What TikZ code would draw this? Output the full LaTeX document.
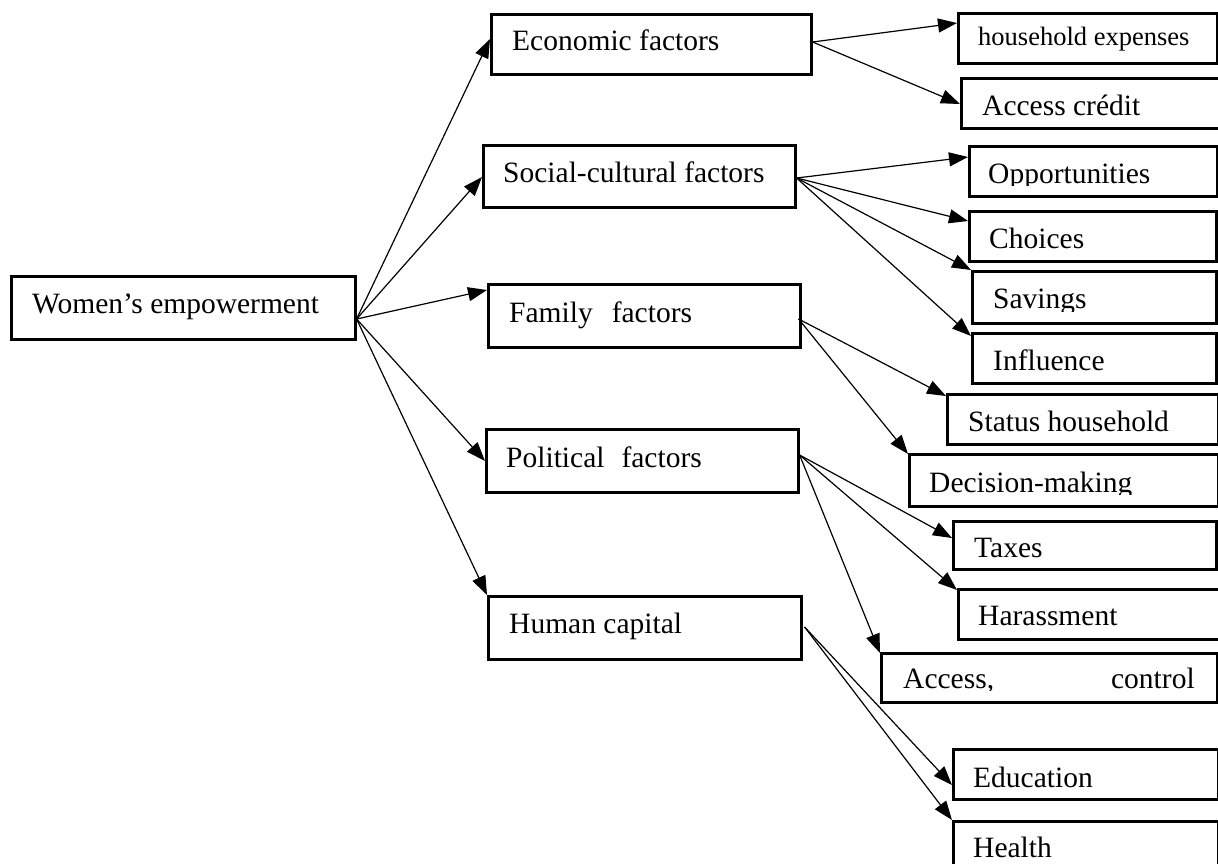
\documentclass[tikz,border=0pt]{standalone}
\usepackage{fontspec}
\setmainfont{Liberation Serif}
\usetikzlibrary{arrows.meta}
\begin{document}
\begin{tikzpicture}[x=1pt,y=-1pt,
  box/.style={draw, line width=2.6pt, rectangle, inner sep=0pt, anchor=north west},
  lbl/.style={anchor=base west, inner sep=0pt, font=\fontsize{29.5}{34}\selectfont},
  lblsmall/.style={anchor=base west, inner sep=0pt, font=\fontsize{26.5}{31}\selectfont},
  arr/.style={-{Triangle[length=19pt,width=14pt]}, line width=1.2pt}]
\useasboundingbox (0,0) rectangle (1218,863);
% boxes
\newcommand{\mybox}[5]{\node[box, minimum width=#4-#2, minimum height=#5-#3] (#1) at (#2,#3) {};}
\mybox{we}{10}{275}{354}{338}
\mybox{eco}{490}{13}{810}{73}
\mybox{soc}{482}{144}{794}{206}
\mybox{fam}{487}{283}{799}{346}
\mybox{pol}{485}{428}{797}{491}
\mybox{hum}{487}{595}{800}{658}
\mybox{hh}{957}{12}{1216}{62}
\mybox{ac}{960}{77}{1224}{127}
\mybox{opp}{968}{145}{1216}{195}
\mybox{cho}{968}{210}{1215}{260}
\mybox{sav}{971}{270}{1215}{322}
\mybox{inf}{971}{332}{1215}{382}
\mybox{sta}{946}{393}{1217}{443}
\mybox{dec}{908}{453}{1217}{505}
\mybox{tax}{952}{520}{1215}{568}
\mybox{har}{957}{588}{1224}{638}
\mybox{acc}{880}{652}{1216}{701}
\mybox{edu}{952}{748}{1217}{798}
\mybox{hea}{952}{820}{1217}{872}
% labels
\node[lbl] (we-t) at (32,313) {Women’s empowerment};
\node[lbl] (eco-t) at (512,50) {Economic factors};
\node[lbl] (soc-t) at (503,182) {Social-cultural factors};
\node[lbl] (fam-t) at (509,322) {Family\hspace{19pt}factors};
\node[lbl] (pol-t) at (506,467) {Political\hspace{17pt}factors};
\node[lbl] (hum-t) at (509,633) {Human capital};
\node[lblsmall] (hh-t) at (978,45) {household expenses};
\node[lbl] (ac-t) at (982,115) {Access crédit};
\begin{scope}\clip (960,140) rectangle (1218,185.5);
\node[lbl] (opp-t) at (988,183) {Opportunities};
\end{scope}
\node[lbl] (cho-t) at (989,248) {Choices};
\begin{scope}\clip (960,270) rectangle (1218,311);
\node[lbl] (sav-t) at (993,308) {Savings};
\end{scope}
\node[lbl] (inf-t) at (993,370) {Influence};
\node[lbl] (sta-t) at (968,431) {Status household};
\begin{scope}\clip (900,453) rectangle (1218,494.5);
\node[lbl] (dec-t) at (929,492) {Decision-making};
\end{scope}
\node[lbl] (tax-t) at (974,557) {Taxes};
\node[lbl] (har-t) at (978,625) {Harassment};
\begin{scope}\clip (880,652) rectangle (1218,690.5);
\node[lbl] (acc-t) at (903,688) {Access,\hspace{117pt}control};
\end{scope}
\node[lbl] (edu-t) at (973,787) {Education};
\node[lbl] (hea-t) at (973,857) {Health};
% connectors from Women's empowerment
\coordinate (we-o) at ([yshift=-44pt]we.north east);
\draw[arr] (we-o) -- ([yshift=-26pt]eco.north west);
\draw[arr] (we-o) -- ([yshift=-33pt]soc.north west);
\draw[arr] (we-o) -- ([yshift=-7pt]fam.north west);
\draw[arr] (we-o) -- ([yshift=-33pt]pol.north west);
\draw[arr] (we-o) -- (hum.north west);
% economic
\coordinate (eco-o) at ([yshift=-29pt]eco.north east);
\draw[arr] (eco-o) -- ([yshift=-11pt]hh.north west);
\draw[arr] (eco-o) -- ([yshift=-27pt]ac.north west);
% social
\coordinate (soc-o) at ([yshift=-34pt]soc.north east);
\draw[arr] (soc-o) -- ([yshift=-12pt]opp.north west);
\draw[arr] (soc-o) -- ([yshift=-11pt]cho.north west);
\draw[arr] (soc-o) -- (sav.north west);
\draw[arr] (soc-o) -- ([yshift=-4pt]inf.north west);
% family
\coordinate (fam-o) at ([yshift=-36pt,xshift=-3pt]fam.north east);
\draw[arr] (fam-o) -- ([yshift=-3pt]sta.north west);
\draw[arr] (fam-o) -- ([yshift=-1pt]dec.north west);
% political
\coordinate (pol-o) at ([yshift=-27pt]pol.north east);
\draw[arr] (pol-o) -- ([yshift=-18pt]tax.north west);
\draw[arr] (pol-o) -- ([yshift=-2pt]har.north west);
\draw[arr] (pol-o) -- ([yshift=-1pt]acc.north west);
% human capital
\coordinate (hum-o) at ([yshift=-32pt,xshift=2pt]hum.north east);
\draw[arr] (hum-o) -- ([yshift=-37pt]edu.north west);
\draw[arr] (hum-o) -- (hea.north west);
\end{tikzpicture}
\end{document}
